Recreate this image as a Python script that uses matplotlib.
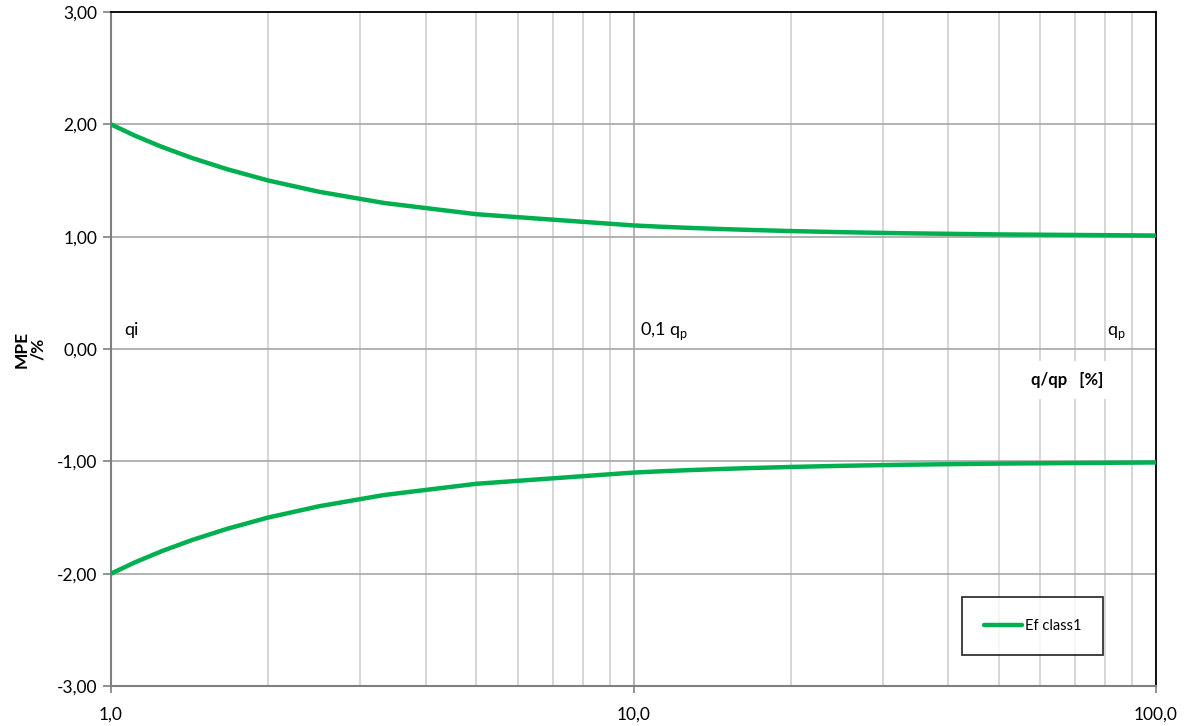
import matplotlib
matplotlib.use("Agg")
import matplotlib.pyplot as plt
from matplotlib.ticker import FixedLocator, FuncFormatter, NullFormatter

plt.rcParams['font.family'] = ['Lato', 'DejaVu Sans']

# Data
q_ratio = [1.0, 1.11, 1.25, 1.43, 1.67, 2.0, 2.5, 3.33, 5.0, 10.0, 11.1, 12.5, 14.3, 16.7, 20.0, 25.0, 33.3, 50.0, 100.0]
mpe_upper = [2.00, 1.90, 1.80, 1.70, 1.60, 1.50, 1.40, 1.30, 1.20, 1.10, 1.09, 1.08, 1.07, 1.06, 1.05, 1.04, 1.03, 1.02, 1.01]
mpe_lower = [-v for v in mpe_upper]
y_ticks = [-3, -2, -1, 0, 1, 2, 3]
x_ticks = [1, 10, 100]
series_name = "Ef class1"
green = "#00b050"

fig = plt.figure(figsize=(11.84, 7.26), dpi=100)
ax = fig.add_axes([111/1184, 1-686/726, (1156-111)/1184, (686-12)/726])

ax.set_xscale('log')
ax.set_xlim(1, 100)
ax.set_ylim(-3, 3)

ax.plot(q_ratio, mpe_upper, color=green, lw=3.2, solid_capstyle='round', label=series_name, zorder=3)
ax.plot(q_ratio, mpe_lower, color=green, lw=3.2, solid_capstyle='round', zorder=3)

ax.yaxis.set_major_locator(FixedLocator(y_ticks))
ax.yaxis.set_major_formatter(FuncFormatter(lambda v, p: f"{v:.2f}".replace('.', ',')))
ax.xaxis.set_major_locator(FixedLocator(x_ticks))
ax.xaxis.set_major_formatter(FuncFormatter(lambda v, p: f"{v:.1f}".replace('.', ',')))
minors = [m * d for d in (1, 10) for m in range(2, 10)]
ax.xaxis.set_minor_locator(FixedLocator(minors))
ax.xaxis.set_minor_formatter(NullFormatter())

ax.grid(True, which='major', axis='y', color='#a6a6a6', lw=1.2)
ax.grid(True, which='major', axis='x', color='#a6a6a6', lw=1.2)
ax.grid(True, which='minor', axis='x', color='#cfcfcf', lw=1.2)
ax.set_axisbelow(True)

for s in ('left', 'bottom'):
    ax.spines[s].set_color('#7f7f7f')
    ax.spines[s].set_linewidth(1.5)
for s in ('top', 'right'):
    ax.spines[s].set_color('black')
    ax.spines[s].set_linewidth(1.3)

ax.tick_params(axis='y', which='major', direction='out', length=6, color='#7f7f7f', width=1.2, labelsize=12.5, pad=4)
ax.tick_params(axis='x', which='major', direction='out', length=5, color='#7f7f7f', width=1.2, labelsize=12.5, pad=10)
ax.tick_params(axis='x', which='minor', length=0)

ax.set_ylabel("MPE\n/%", fontsize=12.5, fontweight='bold', labelpad=8, linespacing=1.0)

ax.text(1.06, 0.10, "qi", fontsize=13, va='bottom', ha='left')
ax.text(10.3, 0.06, r"0,1 q$_\mathregular{p}$", fontsize=13, va='bottom', ha='left')
ax.text(80.5, 0.06, r"q$_\mathregular{p}$", fontsize=13, va='bottom', ha='left')
ax.text((1103-111)/1045, (686-380)/674, "q/qp   [%]", transform=ax.transAxes, fontsize=12, fontweight='bold',
        ha='right', va='center', bbox=dict(facecolor='white', edgecolor='none', pad=8), zorder=4)

leg = ax.legend(loc='upper left', bbox_to_anchor=((962-111)/1045, (686-597)/674), fontsize=10.5,
                frameon=True, fancybox=False, edgecolor='black', handlelength=2.6,
                borderpad=1.5, handletextpad=0.2, borderaxespad=0)
leg.get_frame().set_linewidth(1.3)

fig.savefig("out.png", dpi=100, facecolor='white')
